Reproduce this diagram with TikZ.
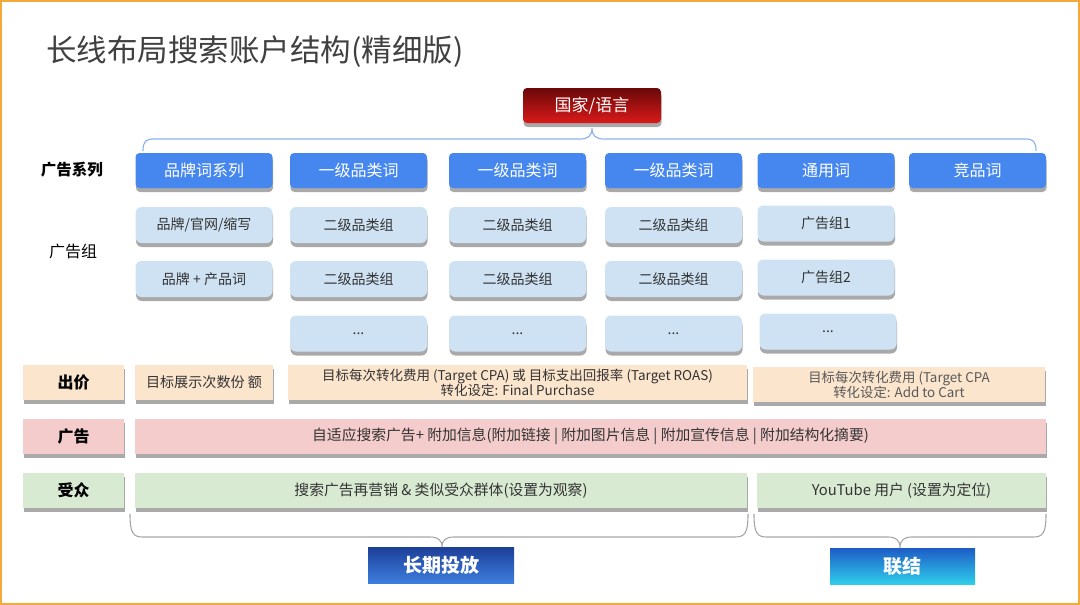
\documentclass[tikz,border=0pt]{standalone}
\usepackage{fontspec}
\setmainfont{Noto Sans CJK SC}
\usetikzlibrary{shadows}
\definecolor{campblue}{HTML}{4587EE}
\definecolor{grpblue}{HTML}{CFE2F3}
\definecolor{peach}{HTML}{FCE5CD}
\definecolor{pinkbar}{HTML}{F4CCCC}
\definecolor{greenbar}{HTML}{D9EAD3}
\definecolor{txtdark}{HTML}{333333}
\definecolor{titlegray}{HTML}{404040}
\definecolor{framecol}{HTML}{F5A93A}
\definecolor{bracetop}{HTML}{8DB3EE}
\definecolor{bracebot}{HTML}{A6A6A6}
\definecolor{redtop}{HTML}{6A0808}
\definecolor{redbot}{HTML}{DA1A1A}
\definecolor{navytop}{HTML}{1C3F98}
\definecolor{navybot}{HTML}{3E7EDE}
\definecolor{cyantop}{HTML}{1D5CC6}
\definecolor{cyanbot}{HTML}{2FCDEB}
\begin{document}
\begin{tikzpicture}[x=1pt,y=-1pt,
  box/.style={draw=none, inner sep=0pt, align=center, minimum height=35pt},
  shad/.style={drop shadow={shadow xshift=0.5pt, shadow yshift=-4pt, opacity=0.45, fill=black!75}},
  camp/.style={box, shad, fill=campblue, rounded corners=4pt, minimum width=137pt, text=white, font=\fontsize{16}{18}\selectfont},
  grp/.style={box, shad, fill=grpblue, rounded corners=6pt, minimum width=137pt, minimum height=36pt, text=txtdark, font=\fontsize{14}{16}\selectfont},
  bar/.style={box, shad, text=txtdark, font=\fontsize{13.5}{15}\selectfont},
  lab/.style={bar, minimum width=101pt, text=black, font=\bfseries\fontsize{16}{18}\selectfont},
  rowlab/.style={text=black, font=\fontsize{15.5}{18}\selectfont},
  bigbtn/.style={box, minimum height=36pt, text=white, font=\bfseries\fontsize{19}{22}\selectfont},
  topbrace/.style={draw=bracetop, line width=1.2pt},
  botbrace/.style={draw=bracebot, line width=1.1pt}
]
\useasboundingbox (0,0) rectangle (1080,605);
\draw[framecol, line width=2.5pt] (1.2,1.2) rectangle (1078.8,603.8);

% title
\node[anchor=west, text=titlegray, font=\fontsize{30.5}{34}\selectfont, inner sep=0pt] (title) at (46,52) {长线布局搜索账户结构(精细版)};

% root
\node[box, shad, minimum width=138pt, rounded corners=4pt, top color=redtop, bottom color=redbot, text=white, font=\fontsize{17}{20}\selectfont] (root) at (592,105.5) {国家/语言};

% row labels
\node[rowlab, font=\bfseries\fontsize{15.5}{18}\selectfont] (lcamp) at (72,170) {广告系列};
\node[rowlab, font=\fontsize{16}{18}\selectfont] (lgrp) at (73,251) {广告组};

% campaigns
\node[camp] (c1) at (204,170.5) {品牌词系列};
\node[camp] (c2) at (358.5,170.5) {一级品类词};
\node[camp] (c3) at (517.5,170.5) {一级品类词};
\node[camp] (c4) at (673.5,170.5) {一级品类词};
\node[camp] (c5) at (826,170.5) {通用词};
\node[camp] (c6) at (977.5,170.5) {竞品词};

% ad groups
\node[grp] (g11) at (204,225) {品牌/官网/缩写};
\node[grp] (g12) at (204,279) {品牌 + 产品词};
\node[grp] (g21) at (358.5,225) {二级品类组};
\node[grp] (g22) at (358.5,279) {二级品类组};
\node[grp] (g23) at (358.5,333.5) {...};
\node[grp] (g31) at (517.5,225) {二级品类组};
\node[grp] (g32) at (517.5,279) {二级品类组};
\node[grp] (g33) at (517.5,333.5) {...};
\node[grp] (g41) at (673.5,225) {二级品类组};
\node[grp] (g42) at (673.5,279) {二级品类组};
\node[grp] (g43) at (673.5,333.5) {...};
\node[grp] (g51) at (826,223.5) {广告组1};
\node[grp] (g52) at (826,277.5) {广告组2};
\node[grp] (g53) at (828,331.5) {...};

% bid row
\node[lab, fill=peach] (lbid) at (73.5,382.5) {出价};
\node[bar, fill=peach, minimum width=138pt, font=\fontsize{14.1}{16}\selectfont] (b1) at (204,382.5) {目标展示次数份 额};
\node[bar, fill=peach, minimum width=459pt, font=\fontsize{13.5}{15}\selectfont] (b2) at (517.5,382.5) {目标每次转化费用 (Target CPA) 或 目标支出回报率 (Target ROAS)\\转化设定: Final Purchase};
\node[bar, fill=peach, minimum width=292pt, text=black!65, font=\fontsize{13.4}{15}\selectfont] (b3) at (899,384.5) {目标每次转化费用 (Target CPA\\转化设定: Add to Cart};

% ad row
\node[lab, fill=pinkbar] (lad) at (73.5,436.5) {广告};
\node[bar, fill=pinkbar, minimum width=911pt, font=\fontsize{14.8}{16}\selectfont] (ad) at (590.5,436.5) {自适应搜索广告+ 附加信息(附加链接 | 附加图片信息 | 附加宣传信息 | 附加结构化摘要)};

% audience row
\node[lab, fill=greenbar] (laud) at (73.5,490.5) {受众};
\node[bar, fill=greenbar, minimum width=612pt, font=\fontsize{14.8}{16}\selectfont] (au1) at (441,490.5) {搜索广告再营销 \& 类似受众群体(设置为观察)};
\node[bar, fill=greenbar, minimum width=289pt, font=\fontsize{14.8}{16}\selectfont] (au2) at (901.5,490.5) {YouTube 用户 (设置为定位)};

% bottom buttons
\node[bigbtn, minimum width=146pt, top color=navytop, bottom color=navybot] (long) at (441,565) {长期投放};
\node[bigbtn, minimum width=145pt, top color=cyantop, bottom color=cyanbot] (link) at (902.5,566) {联结};

% top brace
\coordinate (tbL) at (143,151);
\coordinate (tbR) at (1036,151);
\coordinate (tbT) at (592,128);
\draw[topbrace] (tbL) .. controls (143,141) and (146,139) .. (154,139) -- (580,139)
  .. controls (588,139) and (592,136) .. (tbT)
  .. controls (592,136) and (596,139) .. (604,139) -- (1025,139)
  .. controls (1033,139) and (1036,141) .. (tbR);

% bottom braces
\coordinate (lbL) at (130,514);
\coordinate (lbR) at (748,514);
\coordinate (lbT) at (442,547);
\draw[botbrace] (lbL) .. controls (130,533) and (133,537) .. (143,537) -- (430,537)
  .. controls (438,537) and (442,540) .. (lbT)
  .. controls (442,540) and (446,537) .. (454,537) -- (735,537)
  .. controls (745,537) and (748,533) .. (lbR);
\coordinate (rbL) at (754,514);
\coordinate (rbR) at (1046,514);
\coordinate (rbT) at (900,548);
\draw[botbrace] (rbL) .. controls (754,533) and (757,537) .. (767,537) -- (888,537)
  .. controls (896,537) and (900,540) .. (rbT)
  .. controls (900,540) and (904,537) .. (912,537) -- (1033,537)
  .. controls (1043,537) and (1046,533) .. (rbR);
\end{tikzpicture}
\end{document}
